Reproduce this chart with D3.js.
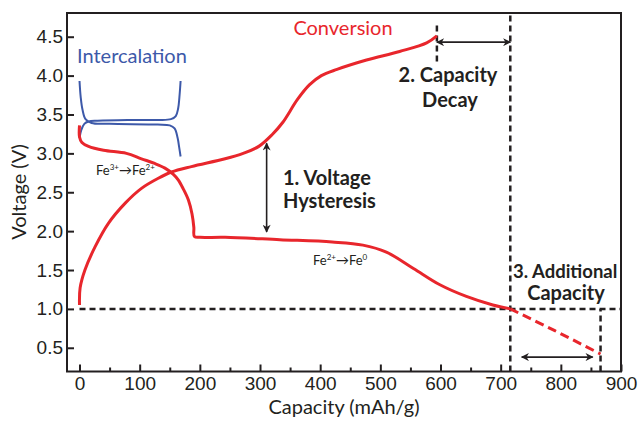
<!DOCTYPE html>
<html>
<head>
<meta charset="utf-8">
<script src="https://cdn.jsdelivr.net/npm/d3@7"></script>
<style>
  body { margin: 0; background: #fff; }
  svg { font-family: Lato, "Open Sans", sans-serif; }
  .axis text { font-size: 19px; fill: #231f20; }
  .axis line { stroke: #231f20; stroke-width: 2; }
  .axis path { display: none; }
  .note { font-size: 20px; font-weight: bold; fill: #231f20; }
</style>
</head>
<body>
<script>
const WIDTH = 639;
const HEIGHT = 422;

// tick values
var capTicks = [0, 100, 200, 300, 400, 500, 600, 700, 800, 900];
var capMinor = [50, 150, 250, 350, 450, 550, 650, 750, 850];
var voltTicks = [0.5, 1.0, 1.5, 2.0, 2.5, 3.0, 3.5, 4.0, 4.5];

// conversion (red) curves, [capacity mAh/g, voltage V]
var convDischarge = [[0, 3.36], [0, 3.21], [4, 3.14], [15, 3.09], [40, 3.04], [78, 3.0],
    [103, 2.93], [125, 2.87], [142, 2.81], [156, 2.73], [164, 2.66], [172, 2.55],
    [181, 2.40], [187, 2.22], [190, 2.05], [191, 1.93], [200, 1.92], [242, 1.92],
    [333, 1.89], [420, 1.86], [471, 1.82], [510, 1.73], [555, 1.52], [599, 1.31],
    [643, 1.16], [687, 1.05], [716, 1.0]];
var convCharge = [[0, 1.05], [1, 1.27], [9, 1.50], [26, 1.80], [48, 2.10], [76, 2.36],
    [103, 2.55], [131, 2.68], [153, 2.76], [186, 2.83], [242, 2.93], [272, 3.0],
    [298, 3.09], [320, 3.24], [338, 3.40], [362, 3.69], [382, 3.88], [402, 4.0],
    [428, 4.08], [477, 4.20], [532, 4.31], [577, 4.42], [594, 4.51]];
var convExtra = [[716, 1.0], [790, 0.72], [866, 0.42]];

// intercalation (blue) curves
var interCharge = [[0, 3.20], [3, 3.30], [8, 3.38], [15, 3.41], [30, 3.42], [80, 3.43],
    [130, 3.43], [152, 3.44], [160, 3.48], [164, 3.58], [166, 3.72], [168, 3.93]];
var interDischarge = [[0, 3.93], [2, 3.72], [5, 3.56], [10, 3.44], [20, 3.39], [50, 3.38],
    [130, 3.37], [150, 3.36], [158, 3.32], [163, 3.20], [166, 3.06], [168, 2.96]];

// dashed guide lines [cap1, v1, cap2, v2]
var guides = [[594, 4.18, 594, 4.65], [716, 0.195, 716, 4.805],
    [866, 0.195, 866, 1.0], [0, 1.0, 900, 1.0]];
// double arrows [cap1, v1, cap2, v2]
var arrows = [[311, 3.13, 311, 1.99], [594, 4.43, 716, 4.43], [735, 0.38, 853, 0.38]];

var svg = d3.select('body').append('svg')
    .attr('width', WIDTH)
    .attr('height', HEIGHT);

var x = d3.scaleLinear().domain([-20.8, 900]).range([67, 621]);
var y = d3.scaleLinear().domain([0.195, 4.805]).range([371.5, 13]);

var defs = svg.append('defs');
['start', 'end'].forEach(function (k) {
    defs.append('marker')
        .attr('id', 'arr-' + k)
        .attr('viewBox', '0 0 10 10')
        .attr('refX', k == 'end' ? 9 : 1).attr('refY', 5)
        .attr('markerWidth', 10).attr('markerHeight', 8)
        .attr('markerUnits', 'userSpaceOnUse')
        .attr('orient', 'auto')
        .append('path')
        .attr('d', k == 'end' ? 'M0,0 L10,5 L0,10 L3,5 Z' : 'M10,0 L0,5 L10,10 L7,5 Z')
        .attr('fill', '#231f20');
});

// axes, ticks pointing inward
svg.append('g').attr('class', 'axis')
    .attr('transform', 'translate(0,371.5)')
    .call(d3.axisBottom(x).tickValues(capTicks).tickSizeInner(-7).tickSizeOuter(0).tickPadding(5));
svg.append('g').attr('class', 'axis')
    .attr('transform', 'translate(0,371.5)')
    .call(d3.axisBottom(x).tickValues(capMinor).tickSizeInner(-4).tickSizeOuter(0).tickFormat(''));
svg.append('g').attr('class', 'axis')
    .attr('transform', 'translate(67,0)')
    .call(d3.axisLeft(y).tickValues(voltTicks).tickSizeInner(-7).tickSizeOuter(0).tickPadding(4)
        .tickFormat(d3.format('.1f')));

svg.append('rect')
    .attr('x', 67).attr('y', 13)
    .attr('width', 621 - 67).attr('height', 371.5 - 13)
    .attr('fill', 'none').attr('stroke', '#231f20').attr('stroke-width', 2);

svg.append('text')
    .attr('x', 344).attr('y', 414)
    .attr('text-anchor', 'middle')
    .attr('font-size', 20).attr('fill', '#231f20')
    .text('Capacity (mAh/g)');
svg.append('text')
    .attr('transform', 'translate(26,192) rotate(-90)')
    .attr('text-anchor', 'middle')
    .attr('font-size', 20).attr('fill', '#231f20')
    .text('Voltage (V)');

// guides
svg.append('g').selectAll('line')
    .data(guides).enter().append('line')
    .attr('x1', function (d) { return x(d[0]); })
    .attr('y1', function (d) { return y(d[1]); })
    .attr('x2', function (d) { return x(d[2]); })
    .attr('y2', function (d) { return y(d[3]); })
    .attr('stroke', '#231f20')
    .attr('stroke-width', 2.5)
    .attr('stroke-dasharray', '6,4');

var line = d3.line()
    .x(function (d) { return x(d[0]); })
    .y(function (d) { return y(d[1]); })
    .curve(d3.curveCatmullRom.alpha(0.5));

[interCharge, interDischarge].forEach(function (s) {
    svg.append('path').attr('d', line(s))
        .attr('fill', 'none').attr('stroke', '#3d59a9').attr('stroke-width', 2);
});
[convDischarge, convCharge].forEach(function (s) {
    svg.append('path').attr('d', line(s))
        .attr('fill', 'none').attr('stroke', '#e8262c').attr('stroke-width', 3);
});
svg.append('path').attr('d', line(convExtra))
    .attr('fill', 'none').attr('stroke', '#e8262c').attr('stroke-width', 3)
    .attr('stroke-dasharray', '9,5');

// arrows
svg.append('g').selectAll('line')
    .data(arrows).enter().append('line')
    .attr('x1', function (d) { return x(d[0]); })
    .attr('y1', function (d) { return y(d[1]); })
    .attr('x2', function (d) { return x(d[2]); })
    .attr('y2', function (d) { return y(d[3]); })
    .attr('stroke', '#231f20')
    .attr('stroke-width', 1.6)
    .attr('marker-start', 'url(#arr-start)')
    .attr('marker-end', 'url(#arr-end)');

// labels
svg.append('text').attr('x', 343).attr('y', 35).attr('text-anchor', 'middle')
    .attr('font-size', 20).attr('fill', '#e8262c').text('Conversion');
svg.append('text').attr('x', 77).attr('y', 63)
    .attr('font-size', 20).attr('fill', '#3d59a9').text('Intercalation');

var notes = [
    ['2. Capacity', 448, 82, 'middle'], ['Decay', 450, 107, 'middle'],
    ['1. Voltage', 283, 185, 'start'], ['Hysteresis', 283, 208, 'start'],
    ['3. Additional', 513, 278, 'start'], ['Capacity', 566, 300, 'middle']
];
svg.append('g').selectAll('text')
    .data(notes).enter().append('text')
    .attr('class', 'note')
    .attr('x', function (d) { return d[1]; })
    .attr('y', function (d) { return d[2]; })
    .attr('text-anchor', function (d) { return d[3]; })
    .style('font-size', function (d) { return d[0] == '3. Additional' ? '18.5px' : null; })
    .text(function (d) { return d[0]; });

function feLabel(xp, yp, a, b) {
    var t = svg.append('text').attr('x', xp).attr('y', yp)
        .attr('font-size', 13).attr('fill', '#231f20');
    t.append('tspan').text('Fe');
    t.append('tspan').attr('font-size', 8).attr('baseline-shift', '5').text(a);
    t.append('tspan').text('\u2192Fe');
    t.append('tspan').attr('font-size', 8).attr('baseline-shift', '5').text(b);
}
feLabel(96, 175, '3+', '2+');
feLabel(313, 265, '2+', '0');
</script>
</body>
</html>
